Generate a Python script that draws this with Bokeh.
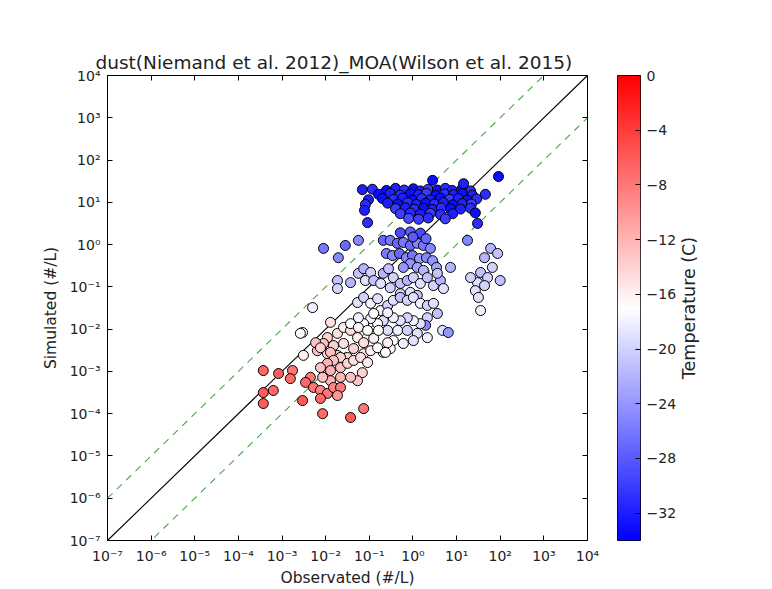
import math
import numpy as np
from bokeh.plotting import figure
from bokeh.models import (LinearColorMapper, ColumnDataSource, LogAxis, Label,
                          FixedTicker, CustomJSTickFormatter, Range1d)
from bokeh.layouts import row
from bokeh.transform import transform
from bokeh.embed import file_html
from bokeh.resources import INLINE

# ---- data: log10 of observed / simulated (#/L) and temperature (C) ----
obs_exp = [
    # coldest cluster
    -1.16, -0.93, -0.61, -0.40, -0.20, 0.01, 0.17, 0.35, 0.56, 0.74, 0.90, 1.11, 1.32,
    -0.79, -0.52, -0.29, -0.06, 0.13, 0.31, 0.52, 0.72, 0.93, 1.13, 1.36, 1.66,
    -1.02, -0.70, -0.45, -0.24, -0.01, 0.20, 0.40, 0.63, 0.84, 1.04, 1.25, 1.46,
    -1.09, -0.58, -0.35, -0.12, 0.08, 0.29, 0.49, 0.70, 0.91, 1.13, 1.34,
    -0.40, -0.17, 0.03, 0.24, 0.45, 0.65, 0.86, 1.09, 1.32,
    -0.29, -0.06, 0.17, 0.40, 0.63, 0.91, 1.43,
    -0.10, 0.13, 0.35, 0.74,
    -0.29, -0.06, 0.17,
    -1.11, -1.04, 0.45, 1.96, 1.16, 1.48,
    # mid blue
    -2.05, -1.71, -1.55, -1.25, -0.68, -0.52, -0.36, -0.22, -0.06, 0.10, 0.24, 0.40,
    -0.61, -0.47, -0.31, -0.15, -0.01, 0.15, 0.31, 0.45, 0.54, -0.06, 0.10, -0.22,
    0.24, 0.86, 1.25, 0.00, 0.30,
    # right group
    1.78, 1.94, 1.64, 1.82, 1.55, 1.71, 1.48, 1.64, 2.00, 1.43, 1.32, 1.50, 1.55,
    # pale group
    -1.73, -1.73, -1.43, -1.25, -1.13, -0.97, -1.09, -0.90, -0.68, -0.56, -0.45, -0.74,
    -0.52, -0.29, -0.13, 0.01, 0.17, 0.33, 0.47, 0.63, 0.70, 0.56, -0.29, -0.06, 0.10,
    -2.30, -2.53, -1.27, -1.13, -0.97, -0.81, -0.74, -0.58, -0.45, -0.29, -0.13, 0.01,
    0.17, 0.33, 0.47, 0.56, 0.33, 0.29, 0.17, 0.01, -0.13, -0.29, -0.45, -0.68, -0.81,
    -0.97, -1.13, -1.25, -0.58, -0.35, -0.13, 0.10, 0.33, 0.01, -0.22, -0.45, 0.68,
    0.81, -0.52, -0.68,
    # pink group
    -1.89, -1.96, -1.73, -1.59, -1.43, -1.27, -1.13, -2.05, -1.82, -1.59, -1.36, -2.19,
    -1.96, -1.73, -1.50, -1.13, -0.97, -2.23, -2.12, -1.89, -1.66, -1.82, -1.96, -2.12,
    -1.89, -1.66, -1.50, -1.36, -1.20, -1.04, -1.16, -1.27, -1.43, -1.66, -1.89, -2.07,
    -2.51, -2.58, -1.43, -1.25, -1.04, -0.90, -0.81, -0.63, -0.58, -0.79, -0.58, -0.90,
    # red group
    -2.35, -2.46, -2.28, -2.12, -1.96, -1.82, -1.66, -1.73, -2.12, -2.53, -2.07, -1.43,
    -1.13, -3.43, -3.08, -2.76, -2.81, -3.43, -3.20, -3.43,
]
sim_exp = [
    1.30, 1.31, 1.28, 1.33, 1.29, 1.32, 1.27, 1.31, 1.29, 1.33, 1.28, 1.30, 1.27,
    1.19, 1.21, 1.17, 1.20, 1.18, 1.21, 1.16, 1.20, 1.18, 1.21, 1.17, 1.19,
    1.06, 1.09, 1.07, 1.10, 1.05, 1.09, 1.06, 1.10, 1.07, 1.09, 1.05, 1.08,
    0.95, 0.98, 0.96, 0.99, 0.95, 0.98, 0.96, 0.99, 0.94, 0.97, 0.96,
    0.85, 0.87, 0.84, 0.86, 0.83, 0.87, 0.85, 0.84, 0.86,
    0.73, 0.75, 0.72, 0.74, 0.71, 0.73, 0.75,
    0.62, 0.60, 0.63, 0.61,
    0.28, 0.30, 0.27,
    0.81, 0.52, 1.52, 1.61, 1.44, 0.50,
    -0.09, -0.31, -0.02, 0.10, 0.10, 0.10, 0.03, 0.05, -0.02, 0.03, -0.02, -0.09,
    -0.21, -0.26, -0.21, -0.31, -0.26, -0.33, -0.31, -0.38, -0.54, -0.45, -0.54, -0.54,
    -0.61, -0.54, 0.10, 0.18, 0.14,
    -0.09, -0.21, -0.31, -0.54, -0.66, -0.78, -0.90, -0.97, -0.85, -1.09, -0.78, -1.25, -1.56,
    -0.85, -1.04, -0.90, -0.68, -0.57, -0.66, -0.85, -0.85, -0.68, -0.57, -0.78, -0.92,
    -1.02, -0.92, -0.85, -0.78, -0.92, -0.78, -0.97, -0.85, -1.04, -0.68, -1.16, -1.13, -1.20,
    -1.49, -2.08, -1.37, -1.25, -1.39, -1.28, -1.56, -1.44, -1.32, -1.25, -1.32, -1.25,
    -1.39, -1.44, -1.39, -1.63, -1.73, -1.91, -1.87, -1.80, -1.73, -1.80, -1.73, -1.80, -1.87,
    -1.75, -1.87, -1.73, -2.03, -2.03, -2.03, -2.10, -2.20, -2.27, -2.34, -2.27, -2.03,
    -2.08, -2.46, -2.55,
    -1.84, -2.20, -2.10, -1.96, -2.03, -2.20, -2.32, -2.34, -2.39, -2.34, -2.46, -2.51,
    -2.58, -2.62, -2.67, -2.58, -2.51, -2.32, -2.44, -2.55, -2.67, -2.74, -2.81, -2.91,
    -2.98, -2.91, -2.81, -2.74, -2.67, -2.79, -3.03, -3.22, -3.14, -3.14, -3.22, -3.14,
    -2.62, -2.10, -1.87, -1.96, -2.03, -2.22, -2.44, -2.55, -2.32, -2.03, -1.61, -1.63,
    -3.14, -3.26, -3.38, -3.45, -3.52, -3.38, -3.38, -3.57, -3.64, -3.69, -4.00, -4.09,
    -3.88, -2.98, -3.05, -2.98, -3.17, -3.50, -3.45, -3.76,
]
temp_c = [
    -32, -31, -33, -32, -31, -33, -32, -30, -33, -31, -32, -33, -31,
    -33, -32, -31, -33, -32, -30, -33, -31, -32, -33, -32, -31,
    -32, -33, -31, -32, -33, -31, -32, -33, -30, -32, -33, -31,
    -31, -32, -33, -31, -32, -33, -31, -32, -33, -32, -30,
    -30, -32, -31, -33, -32, -31, -33, -32, -31,
    -30, -31, -32, -30, -31, -32, -33,
    -29, -30, -31, -30,
    -29, -28, -29,
    -32, -31, -33, -33, -32, -31,
    -26, -25, -27, -25, -27, -26, -27, -26, -27, -25, -26, -25,
    -26, -25, -27, -25, -26, -24, -25, -24, -23, -24, -23, -24,
    -22, -22, -25, -28, -27,
    -22, -21, -22, -20, -21, -20, -19, -20, -21, -19, -20, -19, -18,
    -21, -20, -22, -21, -22, -20, -19, -21, -22, -21, -20, -19,
    -20, -21, -22, -20, -19, -21, -20, -22, -19, -21, -20, -19, -21,
    -18, -17, -19, -20, -18, -19, -18, -20, -19, -21, -20, -19,
    -18, -20, -19, -21, -20, -25, -19, -18, -20, -19, -18, -19, -17,
    -18, -17, -18, -19, -18, -20, -19, -18, -19, -18, -17, -19,
    -24, -17, -18,
    -15, -14, -15, -16, -15, -16, -15, -13, -14, -15, -14, -13,
    -14, -13, -14, -15, -16, -13, -14, -13, -14, -13, -12, -13,
    -12, -13, -14, -15, -15, -16, -14, -13, -13, -12, -12, -13,
    -16, -17, -17, -16, -17, -16, -17, -17, -16, -17, -18, -17,
    -8, -7, -8, -9, -8, -9, -8, -10, -7, -6, -7, -6,
    -8, -7, -6, -8, -7, -6, -7, -6,
]

x_ticks = [1e-7, 1e-6, 1e-5, 1e-4, 1e-3, 1e-2, 1e-1, 1e0, 1e1, 1e2, 1e3, 1e4]
cbar_ticks = [-32, -28, -24, -20, -16, -12, -8, -4, 0]
t_low, t_high = -34, 0
ref_x = [1e-7, 1e4]
ref_factors = [1.0, 10.0, 0.1]

title = "dust(Niemand et al. 2012)_MOA(Wilson et al. 2015)"
cbar_title = "Temperature (C)"
FONT = "DejaVu Sans"
TXT = "#222222"

# bwr colormap
def bwr(n=256):
    cols = []
    for i in range(n):
        t = i / (n - 1)
        if t < 0.5:
            r = g = 2 * t
            b = 1.0
        else:
            r = 1.0
            g = b = 2 * (1 - t)
        cols.append("#%02x%02x%02x" % (int(round(r * 255)), int(round(g * 255)), int(round(b * 255))))
    return cols

palette = bwr()
mapper = LinearColorMapper(palette=palette, low=t_low, high=t_high)

src = ColumnDataSource(dict(
    x=[10 ** v for v in obs_exp],
    y=[10 ** v for v in sim_exp],
    t=temp_c,
))

sup_fmt = CustomJSTickFormatter(code="""
const e = Math.round(Math.log10(tick));
const m = {'-':'\u207b','0':'\u2070','1':'\u00b9','2':'\u00b2','3':'\u00b3','4':'\u2074','5':'\u2075','6':'\u2076','7':'\u2077','8':'\u2078','9':'\u2079'};
return '10' + String(e).split('').map(c => m[c]).join('');
""")

p = figure(x_axis_type="log", y_axis_type="log",
           x_range=Range1d(1e-7, 1e4), y_range=Range1d(1e-7, 1e4),
           frame_width=480, frame_height=465,
           min_border_left=107, min_border_right=13, min_border_top=75, min_border_bottom=49,
           output_backend="svg", toolbar_location=None, title=title)
p.title.align = "left"
p.title.offset = -12
p.title.text_font = FONT
p.title.text_font_size = "18.5px"
p.title.text_font_style = "normal"
p.title.text_color = TXT
p.title.standoff = 5
p.grid.visible = False
p.outline_line_color = "black"
p.outline_line_width = 1
p.background_fill_color = "white"
p.border_fill_color = "white"

for ax in (p.xaxis[0], p.yaxis[0]):
    ax.ticker = FixedTicker(ticks=x_ticks, minor_ticks=[])
    ax.formatter = sup_fmt
    ax.major_tick_in = 5
    ax.major_tick_out = 0
    ax.minor_tick_line_color = None
    ax.axis_line_color = None
    ax.major_label_text_font = FONT
    ax.major_label_text_font_size = "14px"
    ax.major_label_text_color = TXT
    ax.axis_label_text_font = FONT
    ax.axis_label_text_font_size = "15.5px"
    ax.axis_label_text_font_style = "normal"
    ax.axis_label_text_color = TXT
    ax.major_label_standoff = 7
p.xaxis.axis_label = "Observated (#/L)"
p.yaxis.axis_label = "Simulated (#/L)"
p.xaxis.axis_label_standoff = 2
p.yaxis.axis_label_standoff = 7

for side in ("above", "right"):
    a = LogAxis(ticker=FixedTicker(ticks=x_ticks, minor_ticks=[]),
                major_tick_in=5, major_tick_out=0, minor_tick_line_color=None,
                axis_line_color=None, major_label_text_font_size="0px")
    a.major_label_text_color = None
    p.add_layout(a, side)

# reference lines
for f in ref_factors:
    yy = [v * f for v in ref_x]
    if f == 1.0:
        p.line(ref_x, yy, line_color="black", line_width=1.1)
    else:
        p.line(ref_x, yy, line_color="#45a845", line_width=1.1, line_dash="7 6")

p.scatter("x", "y", source=src, size=10, marker="circle",
          fill_color=transform("t", mapper), line_color="black", line_width=1)

# colour bar as a narrow figure
cb = figure(x_range=Range1d(0, 1), y_range=Range1d(t_low, t_high),
            frame_width=23, frame_height=465,
            min_border_left=17, min_border_right=30, min_border_top=75, min_border_bottom=49,
            y_axis_location="right", x_axis_location=None,
            output_backend="svg", toolbar_location=None)
cb.grid.visible = False
cb.outline_line_color = "black"
cb.outline_line_width = 1
cb.image(image=[np.linspace(t_low, t_high, 256).reshape(256, 1)], x=0, y=t_low, dw=1, dh=t_high - t_low,
         color_mapper=mapper)
ya = cb.yaxis[0]
ya.ticker = FixedTicker(ticks=cbar_ticks, minor_ticks=[])
ya.formatter = CustomJSTickFormatter(code="return tick.toString().replace('-', '\u2212');")
ya.major_tick_in = 5
ya.major_tick_out = 0
ya.axis_line_color = None
ya.minor_tick_line_color = None
ya.major_label_text_font = FONT
ya.major_label_text_font_size = "14px"
ya.major_label_text_color = TXT
ya.major_label_standoff = 6

# colour bar title in its own narrow panel
lab = figure(x_range=Range1d(0, 1), y_range=Range1d(0, 1),
             frame_width=38, frame_height=465,
             min_border_left=0, min_border_right=0, min_border_top=75, min_border_bottom=49,
             x_axis_location=None, y_axis_location=None,
             output_backend="svg", toolbar_location=None)
lab.grid.visible = False
lab.outline_line_color = None
lab.add_layout(Label(x=0.24, y=0.5, text=cbar_title, angle=math.pi / 2,
                     text_align="center", text_baseline="middle",
                     text_font=FONT, text_font_size="17.5px", text_color=TXT))

layout = row(p, cb, lab)
open("out.html", "w").write(file_html(layout, INLINE))
